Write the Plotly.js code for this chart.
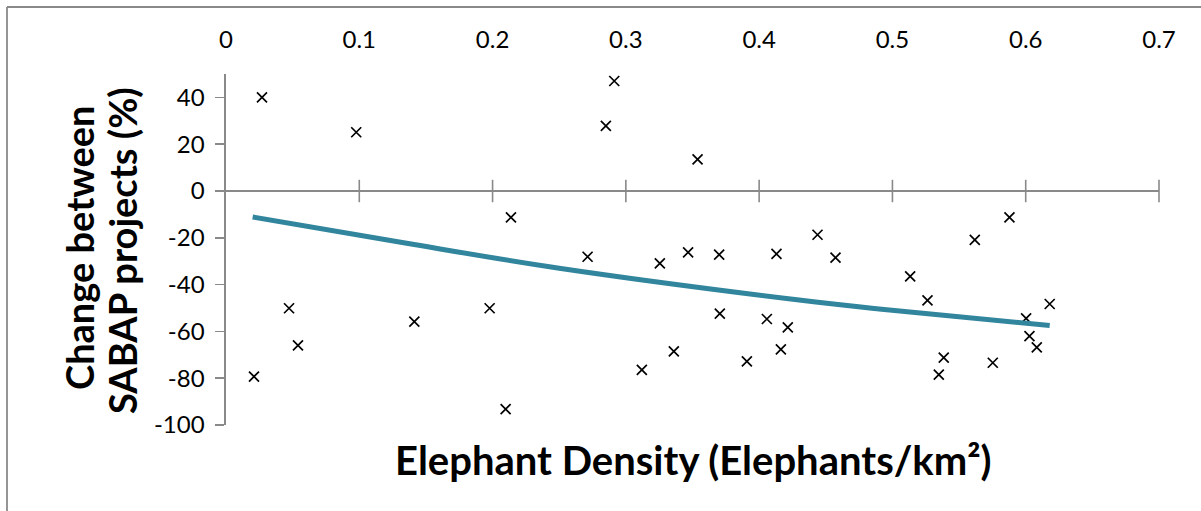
<!DOCTYPE html>
<html>
<head>
<meta charset="utf-8">
<script src="https://cdn.plot.ly/plotly-3.0.1.min.js"></script>
<style>html,body{margin:0;padding:0;background:#fff;}#chart{width:1201px;height:511px;}</style>
</head>
<body>
<div id="chart"></div>
<script>
// Data
const density = [0.021, 0.027, 0.0473, 0.054, 0.0977, 0.1413, 0.1978, 0.2098, 0.2138, 0.2713,
  0.285, 0.2913, 0.312, 0.3255, 0.336, 0.3467, 0.3538, 0.370, 0.3705, 0.3908,
  0.4058, 0.413, 0.4163, 0.4215, 0.4438, 0.4573, 0.5133, 0.5263, 0.5348, 0.5385,
  0.5618, 0.5753, 0.5878, 0.6003, 0.6028, 0.6083, 0.618];
const change = [-79.3, 40.0, -50.1, -66.0, 25.1, -55.8, -50.1, -93.2, -11.3, -28.1,
  27.8, 47.0, -76.4, -30.9, -68.5, -26.2, 13.5, -27.2, -52.4, -72.8,
  -54.7, -26.9, -67.7, -58.3, -18.7, -28.5, -36.5, -46.7, -78.5, -71.2,
  -20.9, -73.4, -11.3, -54.4, -62.0, -66.8, -48.3];
const trendX = [0.02, 0.13, 0.25, 0.43, 0.49, 0.618];
const trendY = [-11.1, -21.8, -33.0, -46.6, -50.4, -57.5];
const xTicks = [0, 0.1, 0.2, 0.3, 0.4, 0.5, 0.6, 0.7];
const xTickText = ['0', '0.1', '0.2', '0.3', '0.4', '0.5', '0.6', '0.7'];
const yTicks = [-100, -80, -60, -40, -20, 0, 20, 40];
const yTickText = ['-100', '-80', '-60', '-40', '-20', '0', '20', '40'];
const xTitle = 'Elephant Density (Elephants/km²)';
const yTitleLines = ['Change between', 'SABAP projects (%)'];

const W = 1201, H = 511;
const L = 226, R = 42, T = 74, B = 86;
const pw = W - L - R, ph = H - T - B;
const px = p => (p - L) / pw;
const py = q => (H - B - q) / ph;
const axisGray = '#898989';
const FONT = 'Lato, "Open Sans", sans-serif';

const traces = [
  {
    x: density, y: change, type: 'scatter', mode: 'markers',
    marker: {symbol: 'x-thin', size: 10, line: {width: 1.7, color: '#000'}},
    showlegend: false, hoverinfo: 'x+y'
  },
  {
    x: trendX, y: trendY, type: 'scatter', mode: 'lines',
    line: {color: '#31859C', width: 5, shape: 'spline'},
    showlegend: false, hoverinfo: 'skip'
  },
  {
    // cross tick marks on the horizontal axis line at y = 0
    x: xTicks.slice(1), y: xTicks.slice(1).map(() => 0), type: 'scatter', mode: 'markers',
    marker: {symbol: 'line-ns', size: 16, line: {width: 1.6, color: axisGray}},
    showlegend: false, hoverinfo: 'skip', cliponaxis: false
  }
];

const layout = {
  width: W, height: H,
  margin: {l: L, r: R, t: T, b: B},
  paper_bgcolor: '#fff', plot_bgcolor: 'rgba(0,0,0,0)',
  font: {family: FONT, color: '#000'},
  xaxis: {
    range: [0, 0.7], side: 'top', tickvals: xTicks, ticktext: xTickText,
    showgrid: false, zeroline: false, showline: false,
    ticks: 'outside', ticklen: 15, tickcolor: 'rgba(0,0,0,0)',
    tickfont: {family: FONT, size: 24, color: '#000'}
  },
  yaxis: {
    range: [-100, 50], tickvals: yTicks, ticktext: yTickText,
    showgrid: false, showline: true, linecolor: axisGray, linewidth: 1.6,
    zeroline: true, zerolinecolor: axisGray, zerolinewidth: 1.6,
    ticks: 'outside', ticklen: 9, tickwidth: 1.6, tickcolor: axisGray,
    ticklabelstandoff: 6,
    tickfont: {family: FONT, size: 24, color: '#000'}
  },
  annotations: [
    {
      text: xTitle, xref: 'paper', yref: 'paper',
      x: px(693), y: py(460), xanchor: 'center', yanchor: 'middle', showarrow: false,
      font: {family: FONT, size: 40, color: '#000', weight: 'bold'}
    },
    {
      text: yTitleLines[0], xref: 'paper', yref: 'paper',
      x: px(79), y: py(248), xanchor: 'center', yanchor: 'middle', showarrow: false,
      textangle: -90,
      font: {family: FONT, size: 38, color: '#000', weight: 'bold'}
    },
    {
      text: yTitleLines[1], xref: 'paper', yref: 'paper',
      x: px(122), y: py(251), xanchor: 'center', yanchor: 'middle', showarrow: false,
      textangle: -90,
      font: {family: FONT, size: 38, color: '#000', weight: 'bold'}
    }
  ],
  shapes: [
    {type: 'line', xref: 'paper', yref: 'paper', x0: px(7), x1: px(7), y0: py(7), y1: py(515),
     line: {color: axisGray, width: 1.8}},
    {type: 'line', xref: 'paper', yref: 'paper', x0: px(7), x1: px(1205), y0: py(7), y1: py(7),
     line: {color: axisGray, width: 1.8}}
  ]
};

Plotly.newPlot('chart', traces, layout, {displayModeBar: false, staticPlot: true});
</script>
</body>
</html>
